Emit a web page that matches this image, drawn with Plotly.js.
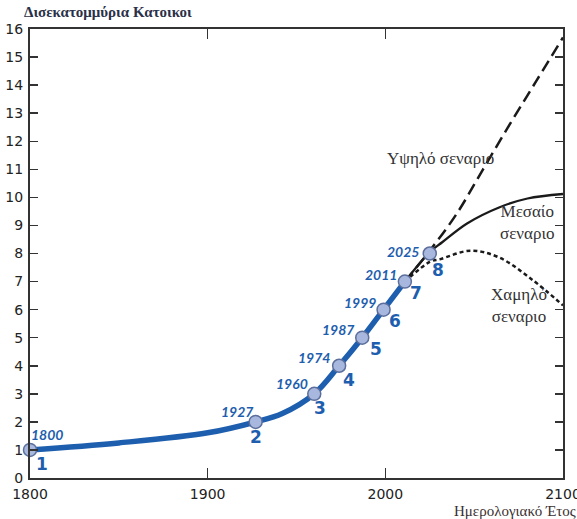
<!DOCTYPE html>
<html>
<head>
<meta charset="utf-8">
<script src="https://cdn.plot.ly/plotly-3.0.1.min.js"></script>
<style>html,body{margin:0;padding:0;background:#fff;}#chart{width:577px;height:519px;}</style>
</head>
<body>
<div id="chart"></div>
<script>
// Historical world population (billions)
var histYears  = [1800, 1850, 1900, 1927, 1942, 1960, 1974, 1987, 1999, 2011];
var histValues = [1,    1.25, 1.61, 2,    2.3,  3,    4,    5,    6,    7];

// Milestones (each additional billion)
var mileYears  = [1800, 1927, 1960, 1974, 1987, 1999, 2011, 2025];
var mileValues = [1, 2, 3, 4, 5, 6, 7, 8];
var mileLabels = ["1800", "1927", "1960", "1974", "1987", "1999", "2011", "2025"];
var mileNums   = ["1", "2", "3", "4", "5", "6", "7", "8"];

// Projections
var highYears  = [2011, 2025, 2040, 2055, 2070, 2085, 2100];
var highValues = [7,    8.1,  9.4,  11.0, 12.6, 14.15, 15.7];
var medYears   = [2011, 2025, 2032, 2046, 2064, 2080, 2100];
var medValues  = [7,    8.05, 8.4,  9.07, 9.64, 9.96, 10.12];
var lowYears   = [2011, 2025, 2031, 2048, 2064, 2083, 2100];
var lowValues  = [7,    7.7,  7.8,  8.1,  7.86, 7.05, 6.15];

var xTicks = [1800, 1900, 2000, 2100];
var yTicks = [0,1,2,3,4,5,6,7,8,9,10,11,12,13,14,15,16];

var blue = '#1e5eae';

// label offsets in pixels (year label, number label)
var yearOff = [[17,15],[-18,10],[-22,10],[-25,8],[-24,8],[-24,7],[-24,7],[-27,2]];
var numOff  = [[12,-14],[0,-15],[6,-14],[10,-14],[14,-11],[11,-11],[11,-11],[8,-16]];

var traces = [
  {x: highYears, y: highValues, mode:'lines', line:{color:'#1a1a1a', width:2.5, dash:'12px,6px', shape:'spline'}, hoverinfo:'skip'},
  {x: medYears, y: medValues, mode:'lines', line:{color:'#1a1a1a', width:2.3, shape:'spline'}, hoverinfo:'skip'},
  {x: lowYears, y: lowValues, mode:'lines', line:{color:'#1a1a1a', width:2.5, dash:'4px,3px', shape:'spline'}, hoverinfo:'skip'},
  {x: histYears, y: histValues, mode:'lines', line:{color:blue, width:5.5, shape:'spline', smoothing:1}, hoverinfo:'skip'},
  {x: mileYears, y: mileValues, mode:'markers', marker:{size:13, color:'#a8b7de', line:{color:'#5c6e9c', width:1.5}}, cliponaxis:false, hoverinfo:'skip'}
];

var annotations = [];
for (var i = 0; i < mileYears.length; i++) {
  annotations.push({x: mileYears[i], y: mileValues[i], xref:'x', yref:'y', text: mileLabels[i], showarrow:false,
    xshift: yearOff[i][0], yshift: yearOff[i][1], xanchor:'center', yanchor:'middle',
    font:{family:'Lato, "Open Sans", sans-serif', size:14, color:blue, style:'italic', weight:'bold'}});
  annotations.push({x: mileYears[i], y: mileValues[i], xref:'x', yref:'y', text: mileNums[i], showarrow:false,
    xshift: numOff[i][0], yshift: numOff[i][1], xanchor:'center', yanchor:'middle',
    font:{family:'"DejaVu Sans", sans-serif', size:17, color:blue, weight:'bold'}});
}
var serif = '"Liberation Serif", "DejaVu Serif", serif';
annotations.push({x:2031.3, y:11.39, xref:'x', yref:'y', text:'Υψηλό σεναριο', showarrow:false, font:{family:serif, size:17, color:'#333'}});
annotations.push({x:2079.7, y:9.1, xref:'x', yref:'y', text:'Μεσαίο<br>σεναριο', showarrow:false, font:{family:serif, size:17, color:'#333'}});
annotations.push({x:2075.2, y:6.15, xref:'x', yref:'y', text:'Χαμηλό<br>σεναριο', showarrow:false, font:{family:serif, size:17, color:'#333'}});
annotations.push({x:-0.015, y:1.038, xref:'paper', yref:'paper', xanchor:'left', yanchor:'middle', text:'Δισεκατομμύρια Κατοικοι', showarrow:false, font:{family:serif, size:15, color:'#2a3048', weight:'bold'}});
annotations.push({x:1.028, y:-0.073, xref:'paper', yref:'paper', xanchor:'right', yanchor:'middle', text:'Ημερολογιακό Έτος', showarrow:false, font:{family:serif, size:15, color:'#3a3030'}});

var layout = {
  width:577, height:519,
  margin:{l:30, r:14, t:29, b:41},
  paper_bgcolor:'#fff', plot_bgcolor:'#fff',
  showlegend:false,
  xaxis:{range:[1800,2100], tickvals:xTicks, ticktext:xTicks.map(String), ticks:'inside', ticklen:10, tickwidth:1.5, tickcolor:'#333',
    showline:true, linewidth:2, linecolor:'#333', mirror:'ticks', showgrid:false, zeroline:false, ticklabeloverflow:'allow',
    ticklabelstandoff:2,
    tickfont:{family:'"DejaVu Sans", sans-serif', size:14, color:'#222'}},
  yaxis:{range:[0,16], tickvals:yTicks, ticks:'inside', ticklen:8, tickwidth:1.5, tickcolor:'#333',
    showline:true, linewidth:2, linecolor:'#333', mirror:'ticks', showgrid:false, zeroline:false,
    tickfont:{family:'"DejaVu Sans", sans-serif', size:14, color:'#222'}, ticklabelstandoff:2},
  annotations: annotations
};

Plotly.newPlot('chart', traces, layout, {displayModeBar:false, staticPlot:true});
</script>
</body>
</html>
